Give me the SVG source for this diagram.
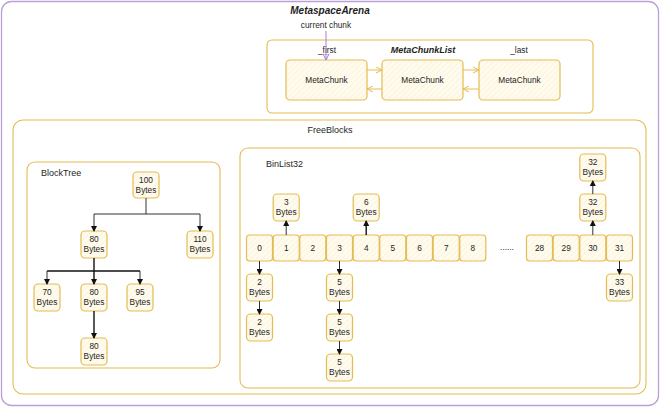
<svg xmlns="http://www.w3.org/2000/svg" width="660" height="407" viewBox="0 0 660 407">
<style>
.box{fill:url(#hatch);stroke:#e3bc52;stroke-width:1.2}
.cont{fill:none;stroke:#e3bc52;stroke-width:1.1}
.t{font-family:"Liberation Sans",Arial,sans-serif;font-size:8.3px;fill:#1e1e1e;text-anchor:middle}
.h{font-family:"Liberation Sans",Arial,sans-serif;font-size:9px;fill:#1e1e1e}
.hb{font-family:"Liberation Sans",Arial,sans-serif;font-size:10px;font-style:italic;font-weight:bold;fill:#1e1e1e;text-anchor:middle}
.ln{fill:none;stroke:#333;stroke-width:1}
.lk{fill:none;stroke:#111;stroke-width:1.4}
.lg{fill:none;stroke:#e3bc52;stroke-width:1}
</style>
<defs>
<pattern id="hatch" width="4" height="4" patternUnits="userSpaceOnUse" patternTransform="rotate(45)">
<rect width="4" height="4" fill="#fffbee"/>
<line x1="0" y1="0" x2="0" y2="4" stroke="#f8eac0" stroke-width="0.8"/>
</pattern>
<marker id="ak" markerWidth="6" markerHeight="6" refX="5" refY="3" orient="auto" markerUnits="userSpaceOnUse">
<path d="M0,0 L6,3 L0,6 Z" fill="#111"/>
</marker>
<marker id="ag" markerWidth="7" markerHeight="7" refX="6" refY="3.5" orient="auto" markerUnits="userSpaceOnUse">
<path d="M0,0.5 L6,3.5 L0,6.5" fill="none" stroke="#e3bc52" stroke-width="1"/>
</marker>
<marker id="ap" markerWidth="7" markerHeight="7" refX="6" refY="3.5" orient="auto" markerUnits="userSpaceOnUse">
<path d="M0,0.5 L6,3.5 L0,6.5 Z" fill="none" stroke="#a57fd0" stroke-width="1"/>
</marker>
</defs>
<rect width="660" height="407" fill="#fff"/>
<rect x="1.5" y="1.5" width="657" height="404" rx="10" fill="none" stroke="#b9a0d8" stroke-width="1.3"/>
<text class="hb" x="330" y="14">MetaspaceArena</text>
<text class="t" x="326" y="28">current chunk</text>

<g id="metachunklist">
<rect class="cont" x="267" y="40" width="326" height="73" rx="5"/>
<text class="t" x="327" y="53">_first</text>
<text class="hb" x="423" y="53" style="font-size:9px">MetaChunkList</text>
<text class="t" x="519" y="53">_last</text>
</g>
<g id="mc1"><rect class="box" x="286" y="60" width="81" height="40" rx="4"/><text class="t" x="326.5" y="83">MetaChunk</text></g>
<g id="mc2"><rect class="box" x="382" y="60" width="81" height="40" rx="4"/><text class="t" x="422.5" y="83">MetaChunk</text></g>
<g id="mc3"><rect class="box" x="479" y="60" width="81" height="40" rx="4"/><text class="t" x="519.5" y="83">MetaChunk</text></g>

<g id="freeblocks">
<rect class="cont" x="13" y="120" width="633" height="274" rx="10"/>
<text class="h" x="330" y="133" text-anchor="middle">FreeBlocks</text>
</g>
<g id="blocktree">
<rect class="cont" x="27" y="162" width="193" height="206" rx="8"/>
<text class="h" x="41" y="176">BlockTree</text>
</g>
<g id="binlist32">
<rect class="cont" x="240" y="148" width="400" height="240" rx="8"/>
<text class="h" x="266" y="167">BinList32</text>
</g>

<g id="bt100"><rect class="box" x="133" y="172" width="26" height="26" rx="4"/><text class="t" x="146" y="183">100</text><text class="t" x="146" y="193">Bytes</text></g>
<g id="bt80a"><rect class="box" x="81" y="231" width="26" height="27" rx="4"/><text class="t" x="94" y="242">80</text><text class="t" x="94" y="252">Bytes</text></g>
<g id="bt110"><rect class="box" x="187" y="231" width="26" height="27" rx="4"/><text class="t" x="200" y="242">110</text><text class="t" x="200" y="252">Bytes</text></g>
<g id="bt70"><rect class="box" x="34" y="284" width="26" height="27" rx="4"/><text class="t" x="47" y="295">70</text><text class="t" x="47" y="305">Bytes</text></g>
<g id="bt80b"><rect class="box" x="81" y="284" width="26" height="27" rx="4"/><text class="t" x="94" y="295">80</text><text class="t" x="94" y="305">Bytes</text></g>
<g id="bt95"><rect class="box" x="127" y="284" width="26" height="27" rx="4"/><text class="t" x="140" y="295">95</text><text class="t" x="140" y="305">Bytes</text></g>
<g id="bt80c"><rect class="box" x="81" y="338" width="26" height="27" rx="4"/><text class="t" x="94" y="349">80</text><text class="t" x="94" y="359">Bytes</text></g>

<g id="cell0"><rect class="box" x="246.5" y="235" width="26" height="26" rx="3"/><text class="t" x="259.5" y="251">0</text></g>
<g id="cell1"><rect class="box" x="273.2" y="235" width="26" height="26" rx="3"/><text class="t" x="286.2" y="251">1</text></g>
<g id="cell2"><rect class="box" x="299.8" y="235" width="26" height="26" rx="3"/><text class="t" x="312.8" y="251">2</text></g>
<g id="cell3"><rect class="box" x="326.5" y="235" width="26" height="26" rx="3"/><text class="t" x="339.5" y="251">3</text></g>
<g id="cell4"><rect class="box" x="353.2" y="235" width="26" height="26" rx="3"/><text class="t" x="366.2" y="251">4</text></g>
<g id="cell5"><rect class="box" x="379.8" y="235" width="26" height="26" rx="3"/><text class="t" x="392.8" y="251">5</text></g>
<g id="cell6"><rect class="box" x="406.5" y="235" width="26" height="26" rx="3"/><text class="t" x="419.5" y="251">6</text></g>
<g id="cell7"><rect class="box" x="433.2" y="235" width="26" height="26" rx="3"/><text class="t" x="446.2" y="251">7</text></g>
<g id="cell8"><rect class="box" x="459.8" y="235" width="26" height="26" rx="3"/><text class="t" x="472.8" y="251">8</text></g>
<text class="t" x="507" y="250">......</text>
<g id="cell28"><rect class="box" x="526.5" y="235" width="26" height="26" rx="3"/><text class="t" x="539.5" y="251">28</text></g>
<g id="cell29"><rect class="box" x="553.2" y="235" width="26" height="26" rx="3"/><text class="t" x="566.2" y="251">29</text></g>
<g id="cell30"><rect class="box" x="579.8" y="235" width="26" height="26" rx="3"/><text class="t" x="592.8" y="251">30</text></g>
<g id="cell31"><rect class="box" x="606.5" y="235" width="26" height="26" rx="3"/><text class="t" x="619.5" y="251">31</text></g>

<g id="b3"><rect class="box" x="273.2" y="194" width="26" height="27" rx="4"/><text class="t" x="286.2" y="205">3</text><text class="t" x="286.2" y="215">Bytes</text></g>
<g id="b6"><rect class="box" x="353.2" y="194" width="26" height="27" rx="4"/><text class="t" x="366.2" y="205">6</text><text class="t" x="366.2" y="215">Bytes</text></g>
<g id="b32a"><rect class="box" x="579.8" y="194" width="26" height="27" rx="4"/><text class="t" x="592.8" y="205">32</text><text class="t" x="592.8" y="215">Bytes</text></g>
<g id="b32b"><rect class="box" x="579.8" y="154" width="26" height="27" rx="4"/><text class="t" x="592.8" y="165">32</text><text class="t" x="592.8" y="175">Bytes</text></g>
<g id="b33"><rect class="box" x="606.5" y="274" width="26" height="27" rx="4"/><text class="t" x="619.5" y="285">33</text><text class="t" x="619.5" y="295">Bytes</text></g>
<g id="b2a"><rect class="box" x="246.5" y="274" width="26" height="27" rx="4"/><text class="t" x="259.5" y="285">2</text><text class="t" x="259.5" y="295">Bytes</text></g>
<g id="b2b"><rect class="box" x="246.5" y="314" width="26" height="27" rx="4"/><text class="t" x="259.5" y="325">2</text><text class="t" x="259.5" y="335">Bytes</text></g>
<g id="b5a"><rect class="box" x="326.5" y="274" width="26" height="27" rx="4"/><text class="t" x="339.5" y="285">5</text><text class="t" x="339.5" y="295">Bytes</text></g>
<g id="b5b"><rect class="box" x="326.5" y="314" width="26" height="27" rx="4"/><text class="t" x="339.5" y="325">5</text><text class="t" x="339.5" y="335">Bytes</text></g>
<g id="b5c"><rect class="box" x="326.5" y="354" width="26" height="27" rx="4"/><text class="t" x="339.5" y="365">5</text><text class="t" x="339.5" y="375">Bytes</text></g>

<g id="connectors">
<path d="M326,31 V60" fill="none" stroke="#a57fd0" stroke-width="1" marker-end="url(#ap)"/>
<path class="lg" d="M367,70 H382" marker-end="url(#ag)"/>
<path class="lg" d="M382,89 H367" marker-end="url(#ag)"/>
<path class="lg" d="M463,70 H479" marker-end="url(#ag)"/>
<path class="lg" d="M479,89 H463" marker-end="url(#ag)"/>

<path class="ln" d="M146,198 V214"/>
<path class="ln" d="M94,214 H200"/>
<path class="ln" d="M94,214 V231" marker-end="url(#ak)"/>
<path class="ln" d="M200,214 V231" marker-end="url(#ak)"/>
<path class="lk" d="M94,258 V271"/>
<path class="lk" d="M47,271 H140"/>
<path class="ln" d="M47,271 V284" marker-end="url(#ak)"/>
<path class="lk" d="M94,271 V284" marker-end="url(#ak)"/>
<path class="ln" d="M140,271 V284" marker-end="url(#ak)"/>
<path class="lk" d="M94,311 V338" marker-end="url(#ak)"/>

<path class="ln" d="M286.2,235 V221" marker-end="url(#ak)"/>
<path class="lk" d="M366.2,235 V221" marker-end="url(#ak)"/>
<path class="ln" d="M592.8,235 V221" marker-end="url(#ak)"/>
<path class="ln" d="M592.8,194 V181" marker-end="url(#ak)"/>
<path class="ln" d="M619.5,261 V274" marker-end="url(#ak)"/>
<path class="ln" d="M259.5,261 V274" marker-end="url(#ak)"/>
<path class="ln" d="M259.5,301 V314" marker-end="url(#ak)"/>
<path class="ln" d="M339.5,261 V274" marker-end="url(#ak)"/>
<path class="ln" d="M339.5,301 V314" marker-end="url(#ak)"/>
<path class="ln" d="M339.5,341 V354" marker-end="url(#ak)"/>
</g>
</svg>
